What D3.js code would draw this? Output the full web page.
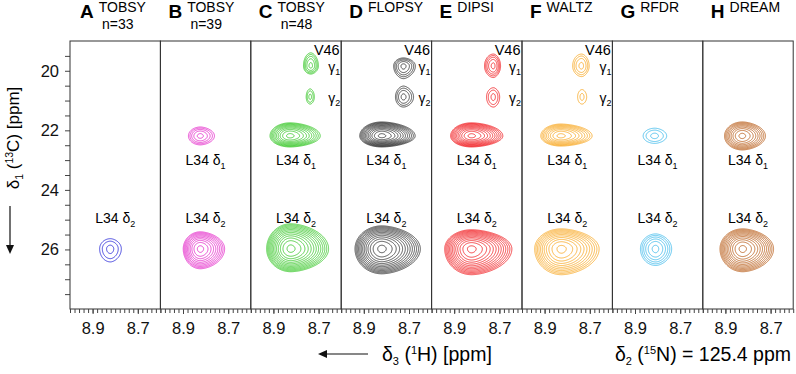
<!DOCTYPE html>
<html>
<head>
<meta charset="utf-8">
<script src="https://cdn.jsdelivr.net/npm/d3@7"></script>
<style>
  body { margin: 0; background: #fff; }
  svg { font-family: "Liberation Sans", Arial, sans-serif; }
  .tick line { stroke: #444; }
  .tick text { fill: #111; }
</style>
</head>
<body>
<script>
// panel headers
const panelLetters = ["A", "B", "C", "D", "E", "F", "G", "H"];
const methods = ["TOBSY", "TOBSY", "TOBSY", "FLOPSY", "DIPSI", "WALTZ", "RFDR", "DREAM"];
const mixLabels = ["n=33", "n=39", "n=48", "", "", "", "", ""];
const colors = ["#1c1cd6", "#e21ec6", "#2ec41e", "#2a2a2a", "#f01418", "#f7a318", "#35b6ea", "#b65812"];

// axes
const xTicks = [8.9, 8.7];
const yTicks = [20, 22, 24, 26];

// peak positions (ppm): δ3 (1H) per panel, δ1 (13C) per peak
const d1X = [null, 8.824, 8.827, 8.821, 8.824, 8.829, 8.813, 8.826];
const d2X = [8.822, 8.824, 8.824, 8.821, 8.824, 8.826, 8.809, 8.824];
const g1X = [null, null, 8.735, 8.725, 8.727, 8.737, null, null];
const g2X = [null, null, 8.738, 8.725, 8.727, 8.735, null, null];
const peakY = [22.18, 25.97, 19.83, 20.87];

// number of contour levels above the base level
const d1Levels = [0, 5, 10, 12, 11, 9, 3, 9];
const d2Levels = [3, 10, 13, 13, 13, 11, 6, 12];
const g1Levels = [0, 0, 5, 5, 5, 4, 0, 0];
const g2Levels = [0, 0, 3, 4, 3, 2, 0, 0];

// outer contour extent in ppm: [downfield, upfield, up, down]
const d1Width = [null, [0.053, 0.062, 0.30, 0.30], [0.089, 0.133, 0.44, 0.37], [0.098, 0.147, 0.47, 0.37],
  [0.093, 0.138, 0.44, 0.37], [0.089, 0.138, 0.40, 0.34], [0.052, 0.052, 0.26, 0.25], [0.079, 0.102, 0.47, 0.47]];
const d2Width = [[0.048, 0.048, 0.34, 0.44], [0.076, 0.107, 0.57, 0.67], [0.107, 0.167, 0.84, 0.77], [0.119, 0.170, 0.77, 0.84],
  [0.119, 0.178, 0.64, 0.87], [0.119, 0.166, 0.67, 0.87], [0.068, 0.070, 0.50, 0.56], [0.101, 0.136, 0.67, 0.77]];
const g1Width = [null, null, [0.033, 0.033, 0.44, 0.27], [0.044, 0.052, 0.27, 0.40], [0.040, 0.031, 0.40, 0.37], [0.040, 0.033, 0.40, 0.34], null, null];
const g2Width = [null, null, [0.018, 0.018, 0.27, 0.24], [0.036, 0.044, 0.34, 0.34], [0.031, 0.027, 0.30, 0.34], [0.020, 0.020, 0.24, 0.24], null, null];

const width = 796, height = 374;
const mLeft = 70, mTop = 41, mBottom = 309;
const pw = 90.4;
const ratio = 1.3, frac = 0.3, step = 0.5;

const svg = d3.select("body").append("svg").attr("width", width).attr("height", height);

const y = d3.scaleLinear().domain([19, 28]).range([mTop, mBottom]);

// y axis
svg.append("g")
  .attr("transform", "translate(" + mLeft + ",0)")
  .call(d3.axisLeft(y).tickValues(d3.range(19.5, 28, 0.5)).tickSize(5).tickPadding(6)
    .tickFormat(d => yTicks.includes(d) ? d : ""))
  .call(g => g.select(".domain").remove())
  .selectAll("text").style("font-size", "16.5px");

const panels = d3.range(8).map(i => {
  const x0 = mLeft + i * pw;
  return { i, x0, x: d3.scaleLinear().domain([9.0, 8.6]).range([x0, x0 + pw]) };
});

panels.forEach(p => {
  const x = p.x, i = p.i;
  const g = svg.append("g");

  // peaks of this panel
  const peaks = [
    [d1X[i], peakY[0], d1Levels[i], d1Width[i]],
    [d2X[i], peakY[1], d2Levels[i], d2Width[i]],
    [g1X[i], peakY[2], g1Levels[i], g1Width[i]],
    [g2X[i], peakY[3], g2Levels[i], g2Width[i]]
  ].filter(d => d[2] > 0).map(([px, py, n, w]) => {
    const amp = Math.pow(ratio, n - 1 + frac);
    const la = 2 * Math.log(amp);
    return {
      cx: x(px), cy: y(py), amp,
      sl: (x(px) - x(px + w[0])) / Math.pow(la, 1 / 2),
      sr: (x(px - w[1]) - x(px)) / Math.pow(la, 1 / 1.7),
      su: (y(py) - y(py - w[2])) / Math.sqrt(la),
      sd: (y(py + w[3]) - y(py)) / Math.sqrt(la)
    };
  });

  const nx = Math.ceil(pw / step), ny = Math.ceil((mBottom - mTop) / step);
  const values = new Float64Array(nx * ny);
  for (let j = 0; j < ny; j++) {
    for (let k = 0; k < nx; k++) {
      const px = p.x0 + k * step, py = mTop + j * step;
      let v = 0;
      peaks.forEach(pk => {
        const dx = px - pk.cx, dy = py - pk.cy;
        const u = dx < 0 ? Math.pow(-dx / pk.sl, 2) : Math.pow(dx / pk.sr, 1.7);
        const w = dy < 0 ? Math.pow(-dy / pk.su, 2) : Math.pow(dy / pk.sd, 2);
        v += pk.amp * Math.exp(-0.5 * (u + w));
      });
      values[j * nx + k] = v;
    }
  }
  const maxN = d3.max([d1Levels[i], d2Levels[i], g1Levels[i], g2Levels[i]]);
  const thresholds = d3.range(maxN).map(k => Math.pow(ratio, k));
  const contours = d3.contours().size([nx, ny]).thresholds(thresholds)(values);
  const path = d3.geoPath(d3.geoIdentity().scale(step).translate([p.x0, mTop]));

  g.selectAll("path.c").data(contours).join("path")
    .attr("class", "c")
    .attr("d", path)
    .attr("fill", "none")
    .attr("stroke", colors[i])
    .attr("stroke-width", 0.8);

  // frame
  g.append("rect")
    .attr("x", p.x0).attr("y", mTop).attr("width", pw).attr("height", mBottom - mTop)
    .attr("fill", "none").attr("stroke", "#333").attr("stroke-width", 1);

  // x axis of panel
  svg.append("g")
    .attr("transform", "translate(0," + mBottom + ")")
    .call(d3.axisBottom(x).tickValues(d3.range(8.6, 9.001, 0.02)).tickSize(4).tickFormat(""))
    .call(g => g.select(".domain").remove());
  svg.append("g")
    .attr("transform", "translate(0," + mBottom + ")")
    .call(d3.axisBottom(x).tickValues(xTicks).tickSize(5).tickPadding(8).tickFormat(d3.format(".1f")))
    .call(g => g.select(".domain").remove())
    .selectAll("text").style("font-size", "16.5px");

  // header
  const hx = p.x0 + (i === 0 ? 10 : 8);
  const head = svg.append("text").attr("x", hx).attr("y", 18);
  head.append("tspan").text(panelLetters[i]).style("font-weight", "bold").style("font-size", "19px");
  head.append("tspan").attr("dx", 5).attr("dy", -6).text(methods[i]).style("font-size", "14px");
  if (mixLabels[i]) {
    svg.append("text").attr("x", hx + 22).attr("y", 29).text(mixLabels[i]).style("font-size", "14px");
  }

  // peak labels
  const lab = (yy, sub) => {
    const t = svg.append("text").attr("x", x(8.8)).attr("y", yy)
      .attr("text-anchor", "middle").style("font-size", "14px");
    t.append("tspan").text("L34 δ");
    t.append("tspan").attr("dy", 4).style("font-size", "9px").text(sub);
  };
  if (d1Levels[i] > 0) lab(y(peakY[0]) + 29, "1");
  lab(y(peakY[1]) - 26, "2");

  if (g1Levels[i] > 0) {
    svg.append("text").attr("x", x(8.6) - 1.5).attr("y", 55).attr("text-anchor", "end")
      .style("font-size", "14.5px").text("V46");
    [[peakY[2], "1"], [peakY[3], "2"]].forEach(([py, sub]) => {
      const t = svg.append("text").attr("x", x(8.6) - 13).attr("y", y(py) + 6).style("font-size", "14px");
      t.append("tspan").text("γ");
      t.append("tspan").attr("dy", 3).style("font-size", "9px").text(sub);
    });
  }
});

// y title
const yt = svg.append("text").attr("transform", "translate(19,138) rotate(-90)")
  .attr("text-anchor", "middle").style("font-size", "17px");
yt.append("tspan").text("δ");
yt.append("tspan").attr("dy", 4).style("font-size", "10.5px").text("1");
yt.append("tspan").attr("dy", -4).text(" (");
yt.append("tspan").attr("dy", -6).style("font-size", "10.5px").text("13");
yt.append("tspan").attr("dy", 6).text("C) [ppm]");

const arrowHead = (x0, y0, dir) => {
  // dir: "down" or "left"
  const pts = dir === "down"
    ? [[x0, y0], [x0 - 4, y0 - 9], [x0 + 4, y0 - 9]]
    : [[x0, y0], [x0 + 9, y0 - 4], [x0 + 9, y0 + 4]];
  svg.append("path").attr("d", d3.line()(pts) + "Z").attr("fill", "#111");
};
svg.append("line").attr("x1", 10).attr("x2", 10).attr("y1", 206).attr("y2", 246).attr("stroke", "#111").attr("stroke-width", 1.2);
arrowHead(10, 254, "down");

// x title
svg.append("line").attr("x1", 326).attr("x2", 368).attr("y1", 354).attr("y2", 354).attr("stroke", "#111").attr("stroke-width", 1.2);
arrowHead(318, 354, "left");
const xt = svg.append("text").attr("x", 382).attr("y", 361).style("font-size", "19.5px");
xt.append("tspan").text("δ");
xt.append("tspan").attr("dy", 4).style("font-size", "11px").text("3");
xt.append("tspan").attr("dy", -4).text(" (");
xt.append("tspan").attr("dy", -7).style("font-size", "11px").text("1");
xt.append("tspan").attr("dy", 7).text("H) [ppm]");

const nt = svg.append("text").attr("x", 791).attr("y", 361).attr("text-anchor", "end").style("font-size", "19.5px");
nt.append("tspan").text("δ");
nt.append("tspan").attr("dy", 4).style("font-size", "11px").text("2");
nt.append("tspan").attr("dy", -4).text(" (");
nt.append("tspan").attr("dy", -7).style("font-size", "11px").text("15");
nt.append("tspan").attr("dy", 7).text("N) = 125.4 ppm");
</script>
</body>
</html>
